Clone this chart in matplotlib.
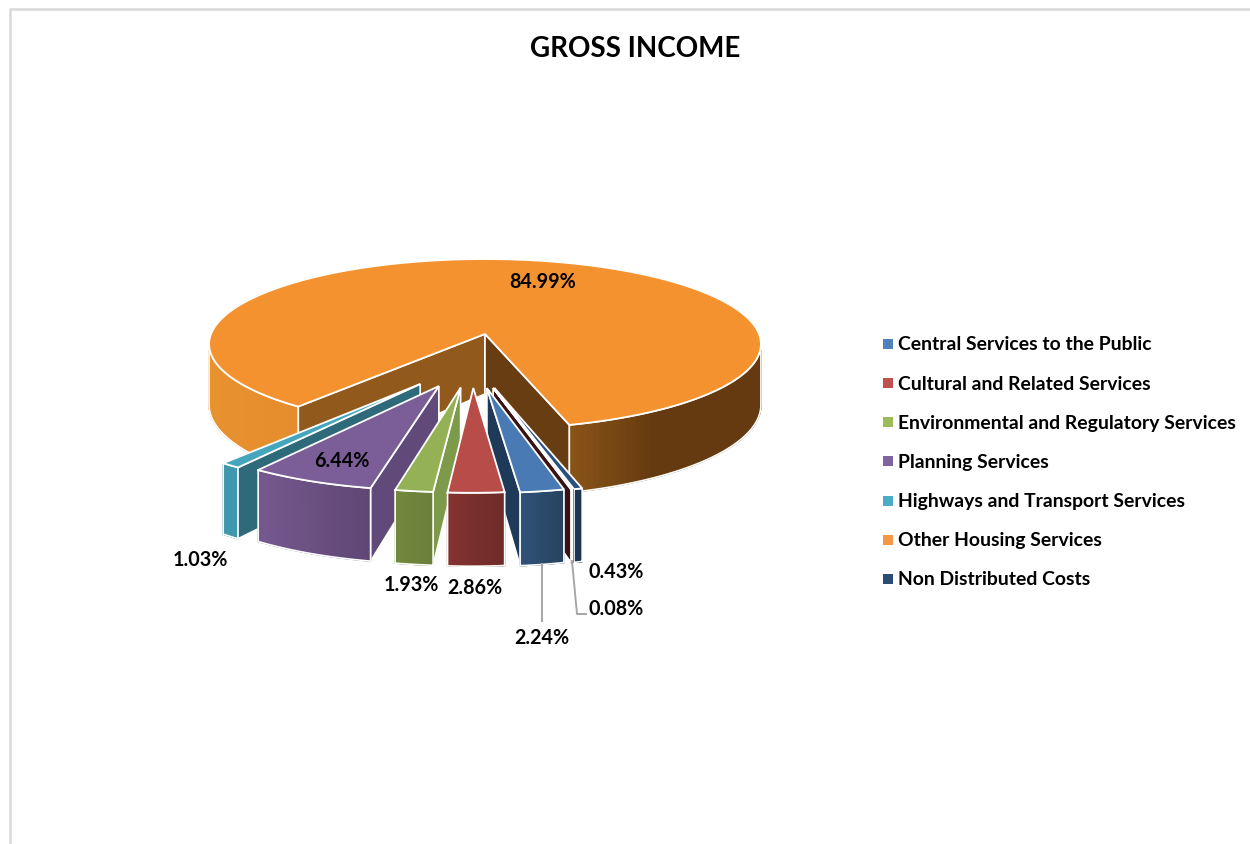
import numpy as np
import matplotlib
matplotlib.use('Agg')
import matplotlib.pyplot as plt
from matplotlib.colors import to_rgb

plt.rcParams['font.family'] = ['Lato', 'DejaVu Sans']

# slices in clockwise order, the first one starts at first_angle
values = [2.24, 2.86, 1.93, 6.44, 1.03, 84.99, 0.43, 0.08]
value_labels = ['2.24%', '2.86%', '1.93%', '6.44%', '1.03%', '84.99%', '0.43%', '0.08%']
legend_names = ['Central Services to the Public', 'Cultural and Related Services',
                'Environmental and Regulatory Services', 'Planning Services',
                'Highways and Transport Services', 'Other Housing Services',
                'Non Distributed Costs']
legend_colors = ['#4f81bd', '#c0504d', '#9bbb59', '#8064a2', '#4bacc6', '#f79646', '#2c4d75']

top_colors = ['#4a7ab3', '#b84c48', '#94b156', '#7b5d98', '#45a5bd', '#f59230', '#2a5080', '#4a1a1a']
face_colors = ['#1f3a58', '#7a2f2c', '#7d9a4a', '#614a7a', '#2f6a7a', '#91591c', '#1b3450', '#3a1212']
rim_left = ['#30537a', '#84332f', '#73893f', '#76598f', '#3f98ad', '#e8912f', '#1b3552', '#3d1414']
rim_right = ['#27435f', '#6f2b29', '#6a7f38', '#5f4674', '#3f98ad', '#653a10', '#1b3552', '#3d1414']

first_angle = 166.0
cx, cy = 485, 335
A, B, k = 274, 83.8, 0.118     # perspective of the pie plane
depth = 60
explode = 0.6
exploded_radius = 0.95


def project(u, v):
    w = 1 + k * v
    return cx + A * u / w, cy - B * v / w, depth / w


def shade(c1, c2, t):
    c1, c2 = np.array(to_rgb(c1)), np.array(to_rgb(c2))
    return tuple(c1 + (c2 - c1) * t)


def draw_rim(ax, i, u0, v0, r, a1, a2, c1, c2, z):
    angs = np.radians(np.linspace(a1, a2, 60))
    px, py, h = project(u0 + r * np.sin(angs), v0 + r * np.cos(angs))
    t = (px - px.min()) / max(px.max() - px.min(), 1)
    # the right part of the big slice falls off quickly to its dark colour
    if i == 5 and a1 < 180:
        t = np.clip(t * 2.2, 0, 1)
    for j in range(len(px) - 1):
        ax.fill([px[j], px[j + 1], px[j + 1], px[j]],
                [py[j], py[j + 1], py[j + 1] + h[j + 1], py[j] + h[j]],
                color=shade(c1, c2, t[j]), lw=1.0, zorder=z)
    xs = np.r_[px, px[::-1], px[0]]
    ys = np.r_[py, (py + h)[::-1], py[0]]
    ax.plot(xs, ys, color='white', lw=1.2, zorder=z + 0.1)


def draw_cut(ax, u0, v0, r, a, color, z):
    ang = np.radians(a)
    x0, y0, h0 = project(u0, v0)
    x1, y1, h1 = project(u0 + r * np.sin(ang), v0 + r * np.cos(ang))
    ax.fill([x0, x1, x1, x0], [y0, y1, y1 + h1, y0 + h0], color=color,
            ec='white', lw=1.2, zorder=z)


def draw_top(ax, u0, v0, r, a1, a2, color, z):
    angs = np.radians(np.linspace(a1, a2, 200))
    u = np.r_[u0, u0 + r * np.sin(angs), u0]
    v = np.r_[v0, v0 + r * np.cos(angs), v0]
    px, py, h = project(u, v)
    ax.fill(px, py, color=color, ec='white', lw=1.3, zorder=z)


fig = plt.figure(figsize=(12.5, 8.45), dpi=100)
ax = fig.add_axes([0, 0, 1, 1])
ax.set_xlim(0, 1250)
ax.set_ylim(845, 0)
ax.axis('off')

# chart border, only top and left fall inside the image
ax.plot([10, 10, 1250], [845, 10, 10], color='#d9d9d9', lw=1.8, zorder=1)

ax.text(635, 49, 'GROSS INCOME', ha='center', va='center', fontsize=20,
        fontweight='bold', color='black')

spans = np.array(values) / sum(values) * 360
starts = first_angle + np.r_[0, np.cumsum(spans)[:-1]]
ends = starts + spans

# big slice stays in place, its cuts are seen from the inside
big = 5
a1, a2 = starts[big], ends[big]
# slices after the big one wrap past the top of the pie
starts[big + 1:] -= 360
ends[big + 1:] -= 360
mids = (starts + ends) / 2

draw_cut(ax, 0, 0, 1, a1, '#91591c', 2)
draw_cut(ax, 0, 0, 1, a2, '#693d12', 3)
vis = np.degrees(np.arccos(-k))
draw_rim(ax, big, 0, 0, 1, vis, a2 - 360, '#8a5518', rim_right[big], 4)
draw_rim(ax, big, 0, 0, 1, a1, 360 - vis, rim_left[big], '#e58d2e', 4)
draw_top(ax, 0, 0, 1, a1, a2, top_colors[big], 5)

# exploded slices, directions fan out less than the true middle angles
order = [4, 6, 7, 3, 0, 2, 1]
for n, i in enumerate(order):
    z = 10 + n
    d = np.radians(188 + 0.48 * (mids[i] - 188))
    u0, v0 = explode * np.sin(d), explode * np.cos(d)
    r = exploded_radius
    ax0 = project(u0, v0)[0]
    xa = project(u0 + r * np.sin(np.radians(starts[i])), v0 + r * np.cos(np.radians(starts[i])))[0]
    xb = project(u0 + r * np.sin(np.radians(ends[i])), v0 + r * np.cos(np.radians(ends[i])))[0]
    if xa < ax0:
        draw_cut(ax, u0, v0, r, starts[i], face_colors[i], z)
    if xb > ax0:
        draw_cut(ax, u0, v0, r, ends[i], face_colors[i], z)
    draw_rim(ax, i, u0, v0, r, ends[i], starts[i], rim_left[i], rim_right[i], z + 0.2)
    draw_top(ax, u0, v0, r, starts[i], ends[i], top_colors[i], z + 0.4)

# value labels
label_x = [542, 475, 411, 342, 200, 543, 616, 616]
label_y = [638, 588, 585, 461, 560, 282, 572, 609]
for txt, x, y in zip(value_labels, label_x, label_y):
    ax.text(x, y, txt, ha='center', va='center', fontsize=14.2, fontweight='bold',
            color='black', zorder=30)

# leader lines
ax.plot([542, 542], [565, 622], color='#a6a6a6', lw=1.4, zorder=25)
ax.plot([572, 577, 586], [562, 615, 615], color='#a6a6a6', lw=1.4, zorder=25)

# legend
for n, (name, col) in enumerate(zip(legend_names, legend_colors)):
    y = 345 + n * 39.15
    ax.scatter([888], [y], s=48, marker='s', color=col, lw=0, zorder=30)
    ax.text(898, y, name, ha='left', va='center', fontsize=13.95, fontweight='bold',
            color='black', zorder=30)

fig.savefig('out.png', dpi=100)
